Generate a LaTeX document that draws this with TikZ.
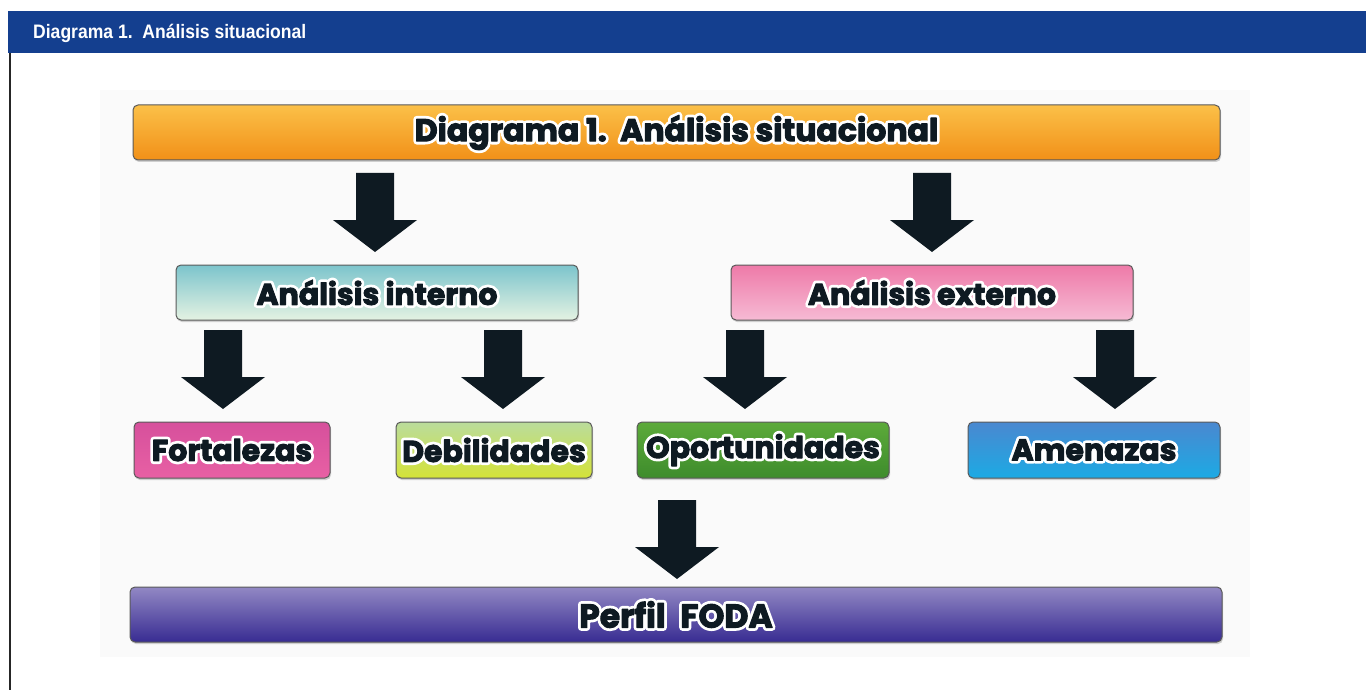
\documentclass[tikz,border=0pt]{standalone}
\usepackage{fontspec}
\setmainfont{Poppins}
\newfontfamily\headfont[FakeStretch=0.9]{Liberation Sans}
\usetikzlibrary{shadows}
\definecolor{hdrblue}{HTML}{143F8F}
\definecolor{arrowc}{HTML}{0E1A22}
\definecolor{txtc}{HTML}{0E1A22}
\tikzset{
  box/.style={rounded corners=5pt, draw=black!65, line width=1pt,
    font=\fontsize{30}{32}\selectfont\bfseries,
    drop shadow={shadow xshift=1pt, shadow yshift=-2pt, opacity=0.35},
    inner sep=0pt},
  pics/downarr/.style={code={
    \fill[arrowc] (-19,0) -- (19,0) -- (19,47) -- (42,47) -- (0,79) -- (-42,47) -- (-19,47) -- cycle;}}
}
% outlined text: white stroked halo, then dark text with a thin round stroke
\newcommand\hl[1]{\leavevmode\rlap{\color{white}\special{pdf:literal direct 1 Tr 6.5 w 1 j}#1\special{pdf:literal direct 0 Tr}}{\color{txtc}\special{pdf:literal direct 2 Tr 1 w 1 j}#1\special{pdf:literal direct 0 Tr}}}
\begin{document}
\begin{tikzpicture}[x=1pt,y=-1pt]
\useasboundingbox (0,0) rectangle (1366,690);
\fill[white] (0,0) rectangle (1366,690);
% header
\fill[hdrblue] (8,11) rectangle (1366,53);
\node[anchor=base west, text=white, inner sep=0pt, font=\headfont\fontsize{19.5}{20}\selectfont\bfseries] (hdr) at (33,39) {Diagrama 1.\ \ Análisis situacional};
\draw[black!85, line width=2.5pt] (10,53) -- (10,690);
% faint background
\fill[black!2] (100,90) rectangle (1250,657);
% boxes
\node[box, minimum width=1087, minimum height=55,
  top color={rgb,255:red,251;green,192;blue,72}, bottom color={rgb,255:red,241;green,144;blue,24}]
  (top) at (676.5,132.5) {\fontsize{31.5}{33}\selectfont\hl{Diagrama 1.\ \ Análisis situacional}};
\node[box, minimum width=402, minimum height=55,
  top color={rgb,255:red,124;green,196;blue,204}, bottom color={rgb,255:red,228;green,242;blue,226}]
  (int) at (377,292.5) {\hl{Análisis interno}};
\node[box, minimum width=402, minimum height=55,
  top color={rgb,255:red,238;green,122;blue,168}, bottom color={rgb,255:red,246;green,186;blue,212}]
  (ext) at (932,292.5) {\hl{Análisis externo}};
\node[box, minimum width=196, minimum height=56,
  top color={rgb,255:red,214;green,80;blue,156}, bottom color={rgb,255:red,232;green,96;blue,164}]
  (fort) at (232,450) {\hl{Fortalezas}};
\node[box, minimum width=196, minimum height=56,
  top color={rgb,255:red,186;green,220;blue,156}, bottom color={rgb,255:red,212;green,226;blue,56}]
  (deb) at (494,450) {\hl{Debilidades}};
\node[box, minimum width=252, minimum height=56,
  top color={rgb,255:red,92;green,170;blue,58}, bottom color={rgb,255:red,62;green,140;blue,44}]
  (opo) at (763,450) {\hl{Oportunidades}};
\node[box, minimum width=252, minimum height=56,
  top color={rgb,255:red,74;green,136;blue,208}, bottom color={rgb,255:red,28;green,170;blue,228}]
  (ame) at (1094,450) {\hl{Amenazas}};
\node[box, minimum width=1092, minimum height=55,
  top color={rgb,255:red,146;green,136;blue,196}, bottom color={rgb,255:red,56;green,44;blue,146}]
  (foda) at (676,614.5) {\fontsize{33}{35}\selectfont\hl{Perfil\hspace{0.45em}FODA}};
% arrows
\pic at (375,173) {downarr};
\pic at (932,173) {downarr};
\pic at (223,330) {downarr};
\pic at (503,330) {downarr};
\pic at (745,330) {downarr};
\pic at (1115,330) {downarr};
\pic at (677,500) {downarr};
\end{tikzpicture}
\end{document}
